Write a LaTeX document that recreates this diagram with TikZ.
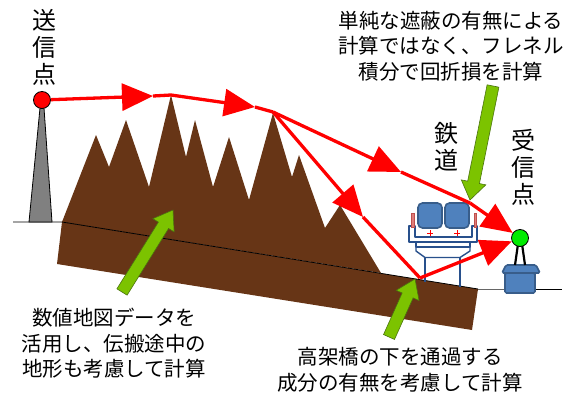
\documentclass[tikz,border=0pt]{standalone}
\usepackage{fontspec}
\newfontfamily\jpfont{Noto Sans CJK JP}
\usetikzlibrary{arrows.meta,calc}

\definecolor{earth}{RGB}{103,53,22}
\definecolor{leaf}{RGB}{124,195,0}
\definecolor{leafline}{RGB}{75,115,15}
\definecolor{steel}{RGB}{79,129,189}
\definecolor{steelline}{RGB}{56,93,138}
\definecolor{deck}{RGB}{40,80,140}
\definecolor{pole}{RGB}{192,80,77}
\definecolor{polefill}{RGB}{222,125,122}
\definecolor{mast}{RGB}{128,128,128}

\tikzset{
  ray/.style={draw=red, line width=3.3pt},
  raytip/.style={ray, -{Triangle[length=31pt,width=27pt]}},
  pointerstyle/.style={fill=leaf, draw=leafline, line width=0.6pt, line join=miter},
  bigvert/.style={font=\jpfont\fontsize{24}{27}\selectfont, align=center, inner sep=0pt},
  note/.style={font=\jpfont\fontsize{20.5}{25.5}\selectfont, align=center, inner sep=0pt},
  structure/.style={draw=deck, line width=1.4pt, fill=white, line join=round},
  steelbox/.style={draw=steelline, line width=1.6pt, fill=steel, rounded corners=4.5pt},
  antenna/.style={circle, draw=black, line width=0.8pt, minimum size=17pt, inner sep=0pt},
}

% thick green pointer from #1 (tail) to #2 (tip)
\newcommand\pointer[2]{%
  \coordinate (#1-h) at ($(#2)!18pt!(#1)$);
  \draw[pointerstyle]
    ($(#1)!6pt!90:(#2)$) -- ($(#1-h)!6pt!90:(#2)$) -- ($(#1-h)!12.5pt!90:(#2)$)
    -- (#2) -- ($(#1-h)!12.5pt!-90:(#2)$) -- ($(#1-h)!6pt!-90:(#2)$)
    -- ($(#1)!6pt!-90:(#2)$) -- cycle;}

\begin{document}
\begin{tikzpicture}[x=1pt,y=-1pt]
\useasboundingbox (0,0) rectangle (577,396);

% ground slab and mountain range
\fill[earth] (62,222) -- (57,264) -- (472,330) -- (478,289) -- cycle;
\fill[earth] (62,222) -- (96,135) -- (109,167) -- (126,120) -- (149,187)
  -- (171,95) -- (186,157) -- (195,120) -- (213,187) -- (229,137)
  -- (249,200) -- (273,113) -- (292,177) -- (299,155) -- (325,228)
  -- (340,205) -- (381,273) -- cycle;

% ground line
\draw[black, line width=0.8pt] (13,222) -- (62,222) -- (478,289);
\draw[black!60, line width=0.8pt] (478,289) -- (505,289);
\draw[black, line width=0.8pt] (505,289) -- (562,289);

% transmitter mast
\draw[fill=mast, line width=0.8pt] (29,222) -- (40,108) -- (44,108) -- (52,222) -- cycle;
\node[antenna, fill=red] (tx) at (42,100) {};

% elevated railway: pier, cap, girder
\draw[structure] (425,256) -- (425,282);
\draw[structure] (460,256) -- (460,287);
\draw[structure] (416,247) -- (470,247) -- (470,251) -- (460,257.5) -- (425,257.5) -- (416,251) -- cycle;
\draw[structure] (416,242) rectangle (470,247);
\draw[structure] (409,226) -- (409,242) -- (477,242) -- (477,226) -- (472,226)
  -- (472,237) -- (415,237) -- (415,226) -- cycle;
\draw[draw=pole, fill=polefill, line width=0.8pt] (411.7,213) rectangle (414.3,227);
\draw[draw=pole, fill=polefill, line width=0.8pt] (474.2,213) rectangle (476.8,227);
\draw[steelbox] (418,203) rectangle (442,228);
\draw[steelbox] (445,203) rectangle (469,228);
\draw[red, line width=0.9pt] (427,233) -- (433,233) (430,230) -- (430,236);
\draw[red, line width=0.9pt] (454,233) -- (460,233) (457,230) -- (457,236);

% receiver stand
\draw[steelbox, rounded corners=1.5pt] (505,273) rectangle (535,293);
\draw[steelbox, rounded corners=1.5pt] (506,265) -- (536,265) -- (540,273) -- (502,273) -- cycle;
\draw[black, line width=2.2pt] (518,244) -- (515,265) (522,244) -- (525,265);
\node[antenna, fill={rgb,255:red,0;green,235;blue,0}] (rx) at (520,238) {};

% propagation paths
\coordinate (a1) at (153,96);
\coordinate (k1) at (171,95);
\coordinate (a2) at (255,107);
\coordinate (k2) at (273,112);
\coordinate (a3) at (401,172);
\coordinate (k3) at (470,203);
\coordinate (a4) at (363,217);
\coordinate (k4) at (420,278);
\draw[raytip] (tx) -- (a1);
\draw[ray] (a1) -- (k1);
\draw[raytip] (k1) -- (a2);
\draw[ray] (a2) -- (k2);
\draw[raytip] (k2) -- (a3);
\draw[ray] (a3) -- (k3);
\draw[raytip] (k3) -- (rx);
\draw[raytip] (k2) -- (a4);
\draw[ray] (a4) -- (k4);
\draw[raytip] (k4) -- (rx);

% green pointers
\coordinate (terrainTail) at (122,292);
\coordinate (terrainTip) at (173,210);
\pointer{terrainTail}{terrainTip}
\coordinate (bridgeTail) at (389,337);
\coordinate (bridgeTip) at (415,279);
\pointer{bridgeTail}{bridgeTip}
\coordinate (fresnelTail) at (493,86);
\coordinate (fresnelTip) at (470,200);
\pointer{fresnelTail}{fresnelTip}

% labels
\node[bigvert] (txlabel) at (44,47.5) {送\\信\\点};
\node[bigvert] (raillabel) at (446,147) {鉄\\道};
\node[bigvert] (rxlabel) at (523,167.5) {受\\信\\点};
\node[note] (fresnel) at (451,46) {単純な遮蔽の有無による\\計算ではなく、フレネル\\積分で回折損を計算};
\node[note] (terrain) at (114,343.5) {数値地図データを\\活用し、伝搬途中の\\地形も考慮して計算};
\node[note] (underpass) at (400,370) {高架橋の下を通過する\\成分の有無を考慮して計算};
\end{tikzpicture}
\end{document}
